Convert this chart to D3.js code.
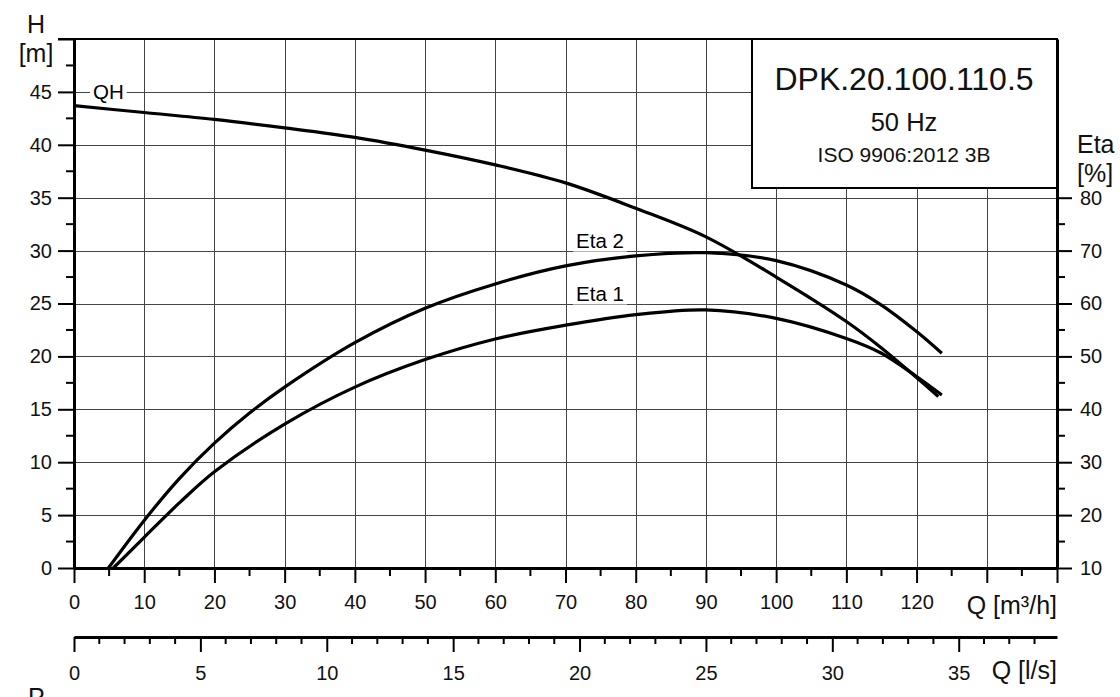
<!DOCTYPE html>
<html>
<head>
<meta charset="utf-8">
<script src="https://cdn.jsdelivr.net/npm/d3@7"></script>
<style>
  body { margin: 0; background: #fff; }
  svg { font-family: "Liberation Sans", Arial, sans-serif; }
  .grid line { stroke: #444; stroke-width: 1; shape-rendering: crispEdges; }
  .axis path, .axis line { stroke: #000; }
  .axis text { font-size: 20px; fill: #111; }
</style>
</head>
<body>
<div id="chart"></div>
<script>
// pump curves, flow in m3/h
var qhFlow = [0, 10, 20, 30, 40, 50, 60, 70, 80, 90, 100, 110, 115, 120, 123.1];
var qhHead = [43.7, 43.05, 42.4, 41.6, 40.7, 39.5, 38.1, 36.4, 34.0, 31.3, 27.5, 23.3, 20.8, 18.0, 16.2];

var eta2Flow = [4.9, 10, 15, 20, 25, 30, 40, 50, 60, 70, 80, 90, 100, 110, 115, 120, 123.6];
var eta2Val = [10, 19.0, 26.9, 33.6, 39.3, 44.2, 52.6, 59.1, 63.7, 67.1, 69.0, 69.6, 68.1, 63.5, 59.7, 54.7, 50.6];

var eta1Flow = [5.6, 10, 15, 20, 30, 40, 50, 60, 70, 80, 90, 100, 110, 115, 120, 123.6];
var eta1Val = [10, 15.8, 22.3, 28.2, 37.2, 44.2, 49.4, 53.3, 55.9, 57.9, 58.8, 57.2, 53.4, 50.6, 46.2, 42.7];

// axis ticks
var flowTicks = [0, 10, 20, 30, 40, 50, 60, 70, 80, 90, 100, 110, 120, 130, 140];
var flowLabels = [0, 10, 20, 30, 40, 50, 60, 70, 80, 90, 100, 110, 120];
var lsTicks = [0, 5, 10, 15, 20, 25, 30, 35];
var headTicks = [0, 5, 10, 15, 20, 25, 30, 35, 40, 45, 50];
var headLabels = [0, 5, 10, 15, 20, 25, 30, 35, 40, 45];
var etaTicks = [10, 20, 30, 40, 50, 60, 70, 80];

var titleLines = ['DPK.20.100.110.5', '50 Hz', 'ISO 9906:2012 3B'];

var W = 1120, H = 697;
var svg = d3.select('#chart').append('svg')
    .attr('width', W)
    .attr('height', H);

var x = d3.scaleLinear().domain([0, 140]).range([74, 1057]);
var xLs = d3.scaleLinear().domain([0, 140 / 3.6]).range([74, 1057]);
var y = d3.scaleLinear().domain([0, 50]).range([568, 39]);
var yEta = d3.scaleLinear().domain([10, 110]).range([568, 39]);

// grid
var grid = svg.append('g').classed('grid', true);
grid.selectAll('.vg')
    .data(flowTicks.filter(function(d) { return d > 0 && d < 140; }))
    .enter().append('line')
    .attr('x1', function(d) { return Math.round(x(d)) + 0.5; })
    .attr('x2', function(d) { return Math.round(x(d)) + 0.5; })
    .attr('y1', y(50))
    .attr('y2', y(0));
grid.selectAll('.hg')
    .data(headTicks.filter(function(d) { return d > 0 && d < 50; }))
    .enter().append('line')
    .attr('x1', x(0))
    .attr('x2', x(140))
    .attr('y1', function(d) { return Math.round(y(d)) + 0.5; })
    .attr('y2', function(d) { return Math.round(y(d)) + 0.5; });

// curves
function curve(flow, vals, scale) {
    return d3.line()
        .x(function(d, i) { return x(flow[i]); })
        .y(function(d, i) { return scale(vals[i]); })
        .curve(d3.curveCatmullRom.alpha(0.5))(vals);
}

var curves = svg.append('g')
    .attr('fill', 'none')
    .attr('stroke', '#000')
    .attr('stroke-width', 3.2);
curves.append('path').attr('d', curve(qhFlow, qhHead, y));
curves.append('path').attr('d', curve(eta2Flow, eta2Val, yEta));
curves.append('path').attr('d', curve(eta1Flow, eta1Val, yEta));

// curve labels, white box hides the grid line behind them
function curveLabel(txt, px, py, base) {
    var t = svg.append('text')
        .attr('x', px)
        .attr('y', py)
        .attr('font-size', 20.5)
        .attr('dominant-baseline', base)
        .text(txt);
    var bb = t.node().getBBox();
    svg.insert('rect', function() { return t.node(); })
        .attr('x', bb.x - 3)
        .attr('y', bb.y)
        .attr('width', bb.width + 6)
        .attr('height', bb.height)
        .attr('fill', '#fff');
}
curveLabel('QH', x(2.7), y(45), 'central');
curveLabel('Eta 2', x(71.5), yEta(70) - 3, 'auto');
curveLabel('Eta 1', x(71.5), yEta(60) - 3, 'auto');

// title box
svg.append('rect')
    .attr('x', 752)
    .attr('y', y(50))
    .attr('width', x(140) - 752)
    .attr('height', 149)
    .attr('fill', '#fff')
    .attr('stroke', '#000')
    .attr('stroke-width', 2);

svg.selectAll('.title')
    .data(titleLines)
    .enter().append('text')
    .attr('x', 904)
    .attr('y', function(d, i) { return [90, 131, 162][i]; })
    .attr('text-anchor', 'middle')
    .attr('font-size', function(d, i) { return [32, 25.5, 21][i]; })
    .attr('fill', '#111')
    .text(function(d) { return d; });

// axes
var fmt = function(list) {
    return function(d) { return list.indexOf(d) >= 0 ? d : ''; };
};

var xAxis = svg.append('g').classed('axis', true)
    .attr('transform', 'translate(0,' + y(0) + ')')
    .call(d3.axisBottom(x).tickValues(flowTicks).tickSize(15).tickSizeOuter(0).tickPadding(12).tickFormat(fmt(flowLabels)));
xAxis.append('g').selectAll('line')
    .data(d3.range(5, 140, 10))
    .enter().append('line')
    .attr('x1', function(d) { return x(d); })
    .attr('x2', function(d) { return x(d); })
    .attr('y1', 0).attr('y2', 8);

var lsAxis = svg.append('g').classed('axis', true)
    .attr('transform', 'translate(0,637)')
    .call(d3.axisBottom(xLs).tickValues(lsTicks).tickSize(15).tickSizeOuter(0).tickPadding(14));
lsAxis.append('g').selectAll('line')
    .data(d3.range(1, 39).filter(function(d) { return d % 5 !== 0; }))
    .enter().append('line')
    .attr('x1', function(d) { return xLs(d); })
    .attr('x2', function(d) { return xLs(d); })
    .attr('y1', 0).attr('y2', 7);

var yAxis = svg.append('g').classed('axis', true)
    .attr('transform', 'translate(' + x(0) + ',0)')
    .call(d3.axisLeft(y).tickValues(headTicks).tickSize(16).tickSizeOuter(0).tickPadding(6).tickFormat(fmt(headLabels)));
yAxis.append('g').selectAll('line')
    .data(d3.range(2.5, 50, 5))
    .enter().append('line')
    .attr('y1', function(d) { return y(d); })
    .attr('y2', function(d) { return y(d); })
    .attr('x1', 0).attr('x2', -8);

var etaAxis = svg.append('g').classed('axis', true)
    .attr('transform', 'translate(' + x(140) + ',0)')
    .call(d3.axisRight(yEta).tickValues(etaTicks).tickSize(15).tickSizeOuter(0).tickPadding(8));
etaAxis.append('g').selectAll('line')
    .data(d3.range(15, 80, 10))
    .enter().append('line')
    .attr('y1', function(d) { return yEta(d); })
    .attr('y2', function(d) { return yEta(d); })
    .attr('x1', 0).attr('x2', 8);

svg.selectAll('.axis line').attr('stroke-width', 2);
xAxis.select('.domain').attr('stroke-width', 3);
lsAxis.select('.domain').attr('stroke-width', 3);
yAxis.select('.domain').attr('stroke-width', 3);
etaAxis.select('.domain').attr('stroke-width', 3);

// top border
svg.append('line')
    .attr('x1', 58).attr('x2', x(140))
    .attr('y1', y(50)).attr('y2', y(50))
    .attr('stroke', '#000')
    .attr('stroke-width', 2);

// axis titles
var titles = [
    ['H', 36, 33, 'middle'],
    ['[m]', 36, 62, 'middle'],
    ['Eta', 1077, 153, 'start'],
    ['[%]', 1077, 182, 'start'],
    ['Q [m³/h]', 1057, 614, 'end'],
    ['Q [l/s]', 1057, 679, 'end'],
    ['P', 28, 706, 'start']
];
svg.selectAll('.atitle')
    .data(titles)
    .enter().append('text')
    .attr('x', function(d) { return d[1]; })
    .attr('y', function(d) { return d[2]; })
    .attr('text-anchor', function(d) { return d[3]; })
    .attr('font-size', 25)
    .attr('fill', '#111')
    .text(function(d) { return d[0]; });
</script>
</body>
</html>
